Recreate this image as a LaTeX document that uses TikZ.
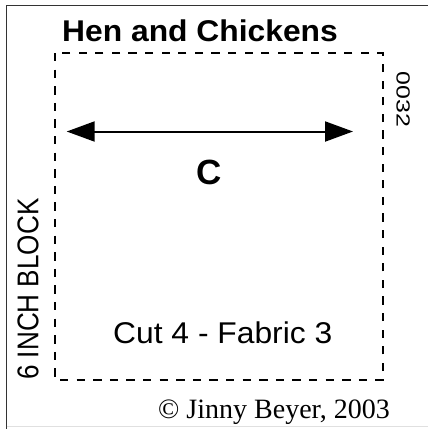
\documentclass[tikz,border=0pt]{standalone}
\usepackage{fontspec}
\setmainfont{Liberation Sans}
\newfontfamily\jbserif{Liberation Serif}
\usetikzlibrary{arrows.meta}

\tikzset{
  lbl/.style={inner sep=0pt, anchor=base west},
  cutline/.style={line width=2pt, dash pattern=on 8.3pt off 8.3pt},
  grain/.style={line width=2pt, {Triangle[length=28pt,width=20pt]}-{Triangle[length=28pt,width=20pt]}}
}

\begin{document}
\begin{tikzpicture}[x=1pt,y=-1pt]
\useasboundingbox (0,0) rectangle (428,429);
\coordinate (tl) at (55,53);
\coordinate (br) at (383,380);
\coordinate (left) at (66.7,131.5);
\coordinate (right) at (353,131.5);

% frame
\draw [line width=1.6pt, color=black!80] (6.5,429) -- (6.5,5.5) -- (428,5.5);
\draw [line width=1pt, color=black!12] (6.5,426.5) -- (428,426.5);

\draw [cutline] (tl) rectangle (br);
\draw [grain] (left) -- (right);

\node (title) [lbl, font=\bfseries\fontsize{30}{36}\selectfont] at (62,41) {\scalebox{1.06}[1]{Hen and Chickens}};
\node (piece) [inner sep=0pt, anchor=base, font=\bfseries\fontsize{35}{40}\selectfont] at (209.5,184) {C};
\node (cut) [lbl, font=\fontsize{30}{36}\selectfont] at (113,343) {\scalebox{1.06}[1]{Cut 4 - Fabric 3}};
\node (num) [lbl, rotate=-90, font=\fontsize{19}{22}\selectfont] at (396.7,71.7) {\scalebox{1.31}[1]{0032}};
\node (size) [lbl, rotate=90, font=\fontsize{30}{36}\selectfont] at (38.3,380) {\scalebox{0.87}[1]{6 INCH BLOCK}};
\node (copy) [lbl, font=\jbserif\fontsize{28}{32}\selectfont] at (158,418) {© Jinny Beyer, 2003};
\end{tikzpicture}
\end{document}
